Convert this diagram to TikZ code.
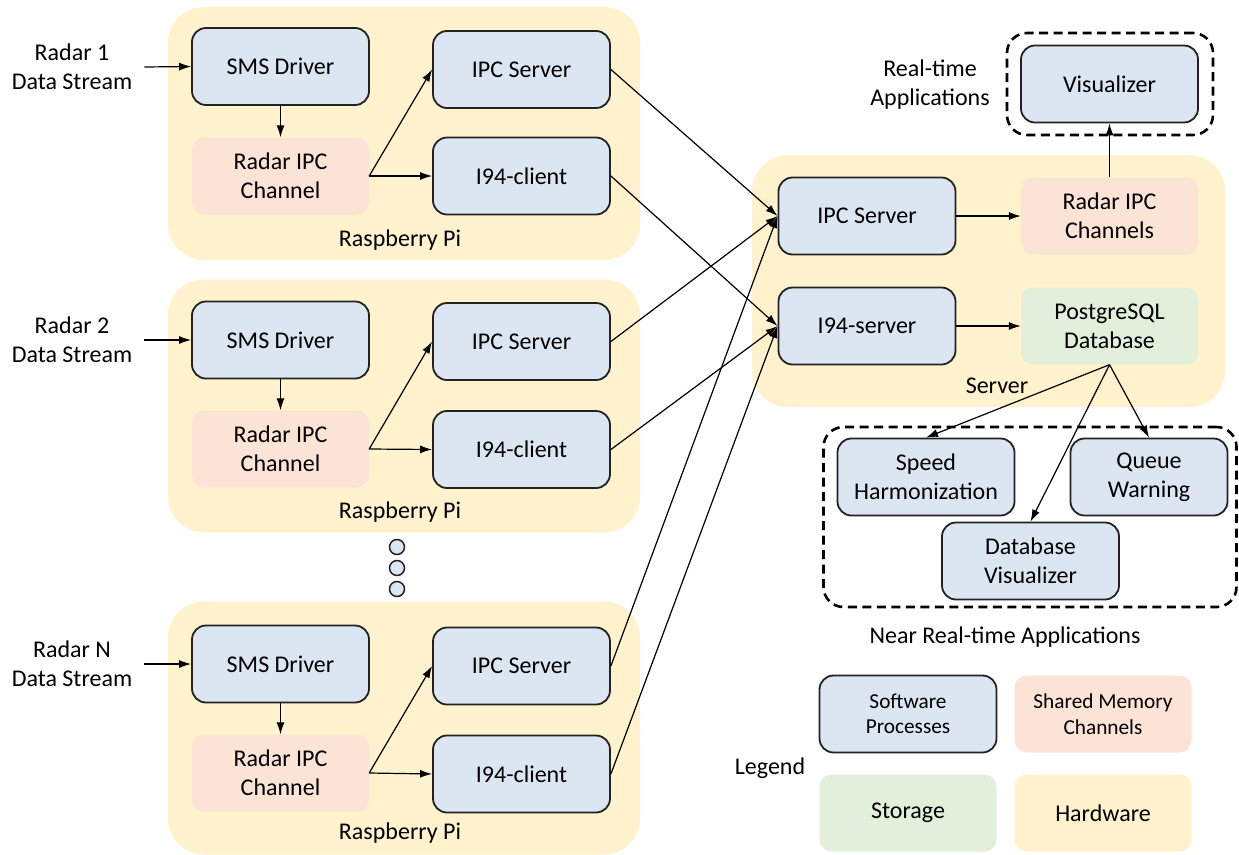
\documentclass[tikz,border=0pt]{standalone}
\usepackage{fontspec}
\setmainfont{Carlito}
\usetikzlibrary{arrows.meta}
\definecolor{swblue}{HTML}{DCE6F2}
\definecolor{shpink}{HTML}{FBE3D5}
\definecolor{stgreen}{HTML}{E2EFDA}
\definecolor{hwyellow}{HTML}{FFF2CC}
\definecolor{edge}{HTML}{222222}
\tikzset{
  txt/.style={font=\fontsize{24}{29}\selectfont, align=center, inner sep=0pt},
  sw/.style={txt, draw=edge, fill=swblue, line width=1.8pt, rounded corners=14pt, minimum width=177pt, minimum height=77pt},
  shm/.style={txt, fill=shpink, rounded corners=12pt, minimum width=177pt, minimum height=77pt},
  stor/.style={txt, fill=stgreen, rounded corners=12pt, minimum width=177pt, minimum height=77pt},
  hw/.style={fill=hwyellow, rounded corners=36pt, inner sep=0pt, minimum width=472pt, minimum height=253pt},
  dbox/.style={draw=black, line width=2.6pt, dash pattern=on 9pt off 5.5pt, rounded corners=20pt, inner sep=0pt},
  arr/.style={-{Latex[length=12pt,width=8pt]}, line width=1.2pt, draw=black},
  dot/.style={circle, draw=edge, fill=swblue, line width=1.5pt, minimum size=15pt, inner sep=0pt},
  small/.style={font=\fontsize{21.3}{25.5}\selectfont}
}
\begin{document}
\begin{tikzpicture}[x=1pt,y=-1pt]
\useasboundingbox (0,0) rectangle (1239,854);
% hardware boxes
\node[hw] (pi1) at (404,133.5) {};
\node[hw] (pi2) at (404,406) {};
\node[hw] (piN) at (404,728) {};
\node[hw, minimum width=473pt, minimum height=252pt] (srv) at (988.5,281) {};
% dashed groups
\node[dbox, minimum width=206pt, minimum height=102pt] (rtg) at (1110,84) {};
\node[dbox, minimum width=413pt, minimum height=180pt] (nrtg) at (1030,517) {};
% Pi 1
\node[txt] (r1) at (72,67) {Radar 1\\Data Stream};
\node[sw] (sms1) at (280.5,66.5) {SMS Driver};
\node[shm] (ch1) at (280.5,176) {Radar IPC\\Channel};
\node[sw] (ipc1) at (521.5,69.5) {IPC Server};
\node[sw] (cl1) at (521.5,176) {I94-client};
\node[txt] (rp1) at (400,240) {Raspberry Pi};
% Pi 2
\node[txt] (r2) at (72,340) {Radar 2\\Data Stream};
\node[sw] (sms2) at (280.5,340) {SMS Driver};
\node[shm] (ch2) at (280.5,449) {Radar IPC\\Channel};
\node[sw] (ipc2) at (521.5,341.5) {IPC Server};
\node[sw] (cl2) at (521.5,449.5) {I94-client};
\node[txt] (rp2) at (400,512) {Raspberry Pi};
% dots
\node[dot] (d1) at (397,547) {};
\node[dot] (d2) at (397,568) {};
\node[dot] (d3) at (397,589) {};
% Pi N
\node[txt] (rN) at (72,664) {Radar N\\Data Stream};
\node[sw] (smsN) at (280.5,664) {SMS Driver};
\node[shm] (chN) at (280.5,773) {Radar IPC\\Channel};
\node[sw] (ipcN) at (521.5,666) {IPC Server};
\node[sw] (clN) at (521.5,774) {I94-client};
\node[txt] (rpN) at (400,833) {Raspberry Pi};
% server
\node[sw] (sipc) at (867,216) {IPC Server};
\node[sw] (s94) at (867,326) {I94-server};
\node[shm] (rch) at (1109.5,216) {Radar IPC\\Channels};
\node[stor] (pg) at (1109.5,326) {PostgreSQL\\Database};
\node[txt] (srvl) at (997,386) {Server};
% real-time
\node[sw] (vis) at (1109.5,84) {Visualizer};
\node[txt] (rtl) at (930,85) {Real-time\\Applications};
% near real-time
\node[sw] (sh) at (926,477) {Speed\\Harmonization};
\node[sw, minimum width=157pt] (qw) at (1149,477) {Queue\\Warning};
\node[sw] (dv) at (1030.5,561) {Database\\Visualizer};
\node[txt] (nrtl) at (1005,637) {Near Real-time Applications};
% legend
\node[txt] (leg) at (770,768) {Legend};
\node[sw, small] (l1) at (908,714) {Software\\Processes};
\node[shm, small] (l2) at (1103,714) {Shared Memory\\Channels};
\node[stor] (l3) at (908,813) {Storage};
\node[txt, fill=hwyellow, rounded corners=12pt, minimum width=177pt, minimum height=77pt] (l4) at (1103,813) {Hardware};
% arrows within Pis
\foreach \i in {1,2,N}{
  \draw[arr] ([xshift=12pt]r\i.east) -- (sms\i.west);
  \draw[arr] (sms\i.south) -- (ch\i.north);
  \draw[arr] (ch\i.east) -- (ipc\i.west);
  \draw[arr] (ch\i.east) -- (cl\i.west);
  \draw[arr] (ipc\i.east) -- (sipc.west);
  \draw[arr] (cl\i.east) -- (s94.west);
}
% server arrows
\draw[arr] (sipc.east) -- (rch.west);
\draw[arr] (s94.east) -- (pg.west);
\draw[arr] (rch.north) -- (vis.south);
\draw[arr] (pg.south) -- (sh.north);
\draw[arr] (pg.south) -- (dv.north);
\draw[arr] (pg.south) -- (qw.north);
\end{tikzpicture}
\end{document}
